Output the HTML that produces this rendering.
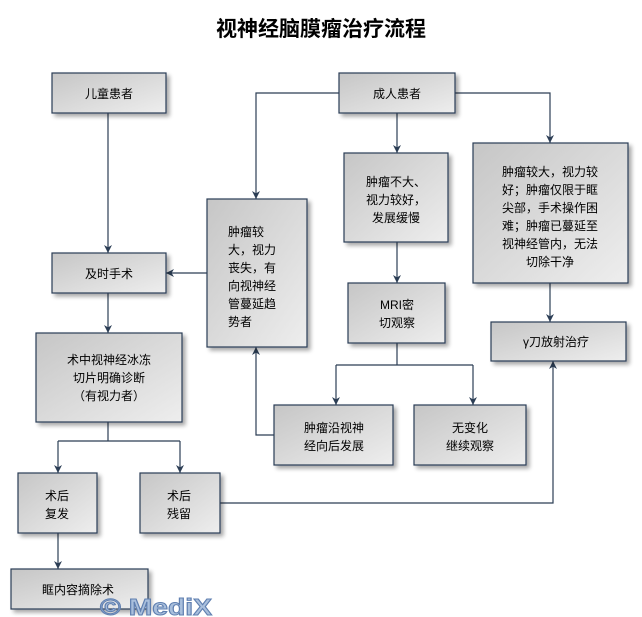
<!DOCTYPE html>
<html><head><meta charset="utf-8"><style>
body{margin:0;background:#fff;}
svg{display:block;font-family:"Liberation Sans","Noto Sans CJK SC",sans-serif;}
</style></head><body>
<svg width="642" height="617" viewBox="0 0 642 617" xmlns="http://www.w3.org/2000/svg">
<defs>
<linearGradient id="g" x1="0" y1="0" x2="1" y2="1">
<stop offset="0" stop-color="#c6c6c6"/><stop offset="1" stop-color="#eeeeee"/></linearGradient>
<filter id="s" x="-10%" y="-10%" width="130%" height="130%"><feGaussianBlur in="SourceAlpha" stdDeviation="2"/><feOffset dx="3" dy="3"/><feComponentTransfer><feFuncA type="linear" slope="0.35"/></feComponentTransfer><feMerge><feMergeNode/><feMergeNode in="SourceGraphic"/></feMerge></filter>
<marker id="a" viewBox="0 0 10 10" refX="10" refY="5" markerWidth="8" markerHeight="8" orient="auto-start-reverse" markerUnits="userSpaceOnUse"><path d="M0,0 L10,5 L0,10 L3,5 z" fill="#2c3e55"/></marker>
</defs>
<text x="321" y="36" text-anchor="middle" font-size="21" font-weight="bold" fill="#000">视神经脑膜瘤治疗流程</text>
<g fill="none" stroke="#2c3e55" stroke-width="1.2">
<path d="M108,113 V253" marker-end="url(#a)"/>
<path d="M108,293 V333" marker-end="url(#a)"/>
<path d="M207,273 H166" marker-end="url(#a)"/>
<path d="M339,93 H256 V199" marker-end="url(#a)"/>
<path d="M397,113 V153" marker-end="url(#a)"/>
<path d="M455,93 H550 V143" marker-end="url(#a)"/>
<path d="M397,242 V283" marker-end="url(#a)"/>
<path d="M550,283 V322" marker-end="url(#a)"/>
<path d="M397,343 V365 M336,365 H473"/>
<path d="M336,365 V405" marker-end="url(#a)"/>
<path d="M473,365 V405" marker-end="url(#a)"/>
<path d="M274,435 H256 V347" marker-end="url(#a)"/>
<path d="M108,422 V441 M58,441 H180"/>
<path d="M58,441 V473" marker-end="url(#a)"/>
<path d="M180,441 V473" marker-end="url(#a)"/>
<path d="M58,533 V569" marker-end="url(#a)"/>
<path d="M220,503 H553 V361" marker-end="url(#a)"/>
</g>
<g fill="url(#g)" stroke="#2c3e55" stroke-width="1.2" filter="url(#s)">
<rect x="52" y="73" width="114" height="40"/>
<rect x="52" y="253" width="114" height="40"/>
<rect x="36" y="333" width="146" height="89"/>
<rect x="207" y="199" width="100" height="148"/>
<rect x="339" y="73" width="116" height="40"/>
<rect x="344" y="153" width="104" height="89"/>
<rect x="348" y="283" width="97" height="60"/>
<rect x="473" y="143" width="155" height="140"/>
<rect x="491" y="322" width="135" height="39"/>
<rect x="274" y="405" width="119" height="60"/>
<rect x="414" y="405" width="112" height="60"/>
<rect x="18" y="473" width="79" height="60"/>
<rect x="140" y="473" width="80" height="60"/>
<rect x="11" y="569" width="137" height="40"/>
</g>
<g font-size="12" fill="#000" text-anchor="middle">
<text x="109" y="98">儿童患者</text>
<text x="109" y="278">及时手术</text>
<text x="109" y="364">术中视神经冰冻</text>
<text x="109" y="382">切片明确诊断</text>
<text x="109" y="400">（有视力者）</text>
<g text-anchor="start"><text x="228" y="236">肿瘤较</text><text x="228" y="254">大，视力</text><text x="228" y="272">丧失，有</text><text x="228" y="290">向视神经</text><text x="228" y="308">管蔓延趋</text><text x="228" y="326">势者</text></g>
<text x="397" y="98">成人患者</text>
<text x="396" y="186">肿瘤不大、</text>
<text x="396" y="204">视力较好，</text>
<text x="396" y="222">发展缓慢</text>
<text x="397" y="309">MRI密</text>
<text x="397" y="327">切观察</text>
<text x="550" y="176">肿瘤较大，视力较</text>
<text x="550" y="194">好；肿瘤仅限于眶</text>
<text x="550" y="212">尖部，手术操作困</text>
<text x="550" y="230">难；肿瘤已蔓延至</text>
<text x="550" y="248">视神经管内，无法</text>
<text x="550" y="266">切除干净</text>
<text x="556" y="346">γ刀放射治疗</text>
<text x="334" y="432">肿瘤沿视神</text>
<text x="334" y="450">经向后发展</text>
<text x="470" y="432">无变化</text>
<text x="470" y="450">继续观察</text>
<text x="57" y="500">术后</text>
<text x="57" y="518">复发</text>
<text x="179" y="500">术后</text>
<text x="179" y="518">残留</text>
<text x="78" y="594">眶内容摘除术</text>
</g>
<text x="100" y="615" font-size="23" font-weight="bold" fill="#a9bfdc" stroke="#5f7fb0" stroke-width="1" textLength="112" lengthAdjust="spacingAndGlyphs">© MediX</text>
</svg>
</body></html>
